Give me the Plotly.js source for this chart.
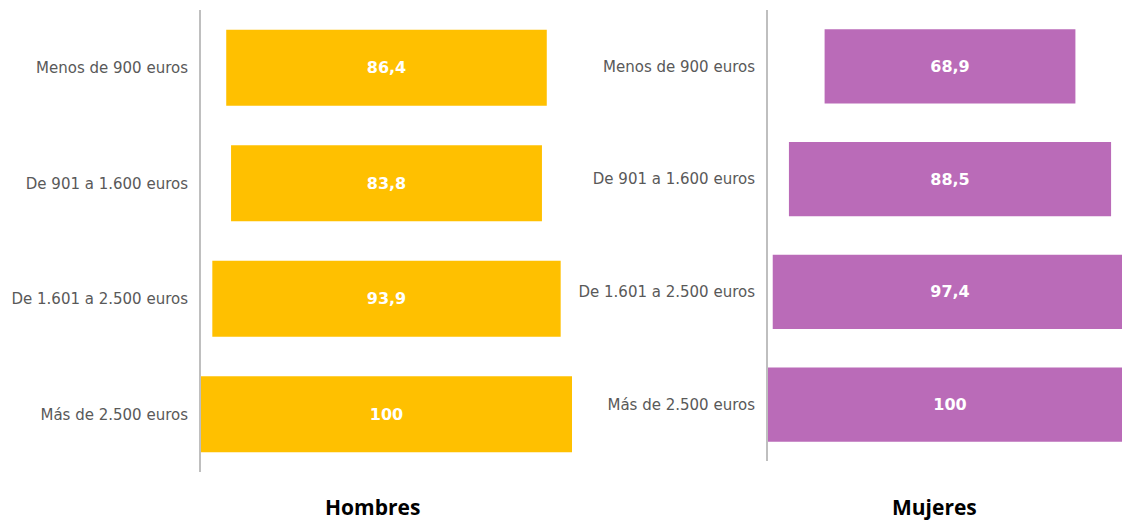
<!DOCTYPE html>
<html><head><meta charset="utf-8">
<script src="https://cdn.plot.ly/plotly-3.0.1.min.js"></script>
<style>html,body{margin:0;padding:0;background:#fff}</style>
</head><body>
<div id="chart" style="width:1122px;height:523px"></div>
<script>
const categories = ["Menos de 900 euros","De 901 a 1.600 euros","De 1.601 a 2.500 euros","Más de 2.500 euros"];
const hombres = [86.4, 83.8, 93.9, 100];
const mujeres = [68.9, 88.5, 97.4, 100];
const panelTitles = ["Hombres","Mujeres"];

const W = 1122, H = 523;
const fmt = v => String(v).replace('.', ',');
function mk(vals, color, xa, ya){
  return {
    type:'bar', orientation:'h',
    y: categories, x: vals, base: vals.map(v => -v/2),
    xaxis: xa, yaxis: ya,
    marker:{color: color},
    width: 0.66,
    text: vals.map(fmt), textposition:'inside', insidetextanchor:'middle',
    textfont:{color:'#ffffff', size:16, family:'DejaVu Sans', weight:'bold'},
    hoverinfo:'none'
  };
}
const data = [mk(hombres,'#FFC000','x','y'), mk(mujeres,'#BA6BB8','x2','y2')];
const yax = (top, bottom) => ({
  domain:[(H-bottom)/H, (H-top)/H],
  categoryorder:'array', categoryarray: categories,
  autorange:false, range:[3.5,-0.5],
  showline:true, linecolor:'#BFBFBF', linewidth:2,
  showgrid:false, zeroline:false, ticks:'',
  tickfont:{family:'DejaVu Sans', size:15, color:'#595959'},
  ticklabelstandoff: 8, fixedrange:true
});
const layout = {
  width:W, height:H, margin:{l:0,r:0,t:0,b:0},
  paper_bgcolor:'#fff', plot_bgcolor:'rgba(0,0,0,0)',
  showlegend:false, bargap:0.34,
  xaxis:{domain:[201/W, 572/W], range:[-50,50], visible:false, fixedrange:true},
  yaxis: Object.assign(yax(10,472), {anchor:'x'}),
  xaxis2:{domain:[768/W, 1], range:[-50, 47.25], visible:false, anchor:'y2', fixedrange:true},
  yaxis2: Object.assign(yax(10,461), {anchor:'x2'}),
  annotations:[
    {text:'<b>'+panelTitles[0]+'</b>', xref:'paper', yref:'paper', x:372/W, y:(H-507)/H, xanchor:'center', yanchor:'middle', showarrow:false, font:{family:'Open Sans', size:21, color:'#000'}},
    {text:'<b>'+panelTitles[1]+'</b>', xref:'paper', yref:'paper', x:934/W, y:(H-507)/H, xanchor:'center', yanchor:'middle', showarrow:false, font:{family:'Open Sans', size:21, color:'#000'}}
  ]
};
Plotly.newPlot('chart', data, layout, {staticPlot:true, displayModeBar:false});
</script>
</body></html>
